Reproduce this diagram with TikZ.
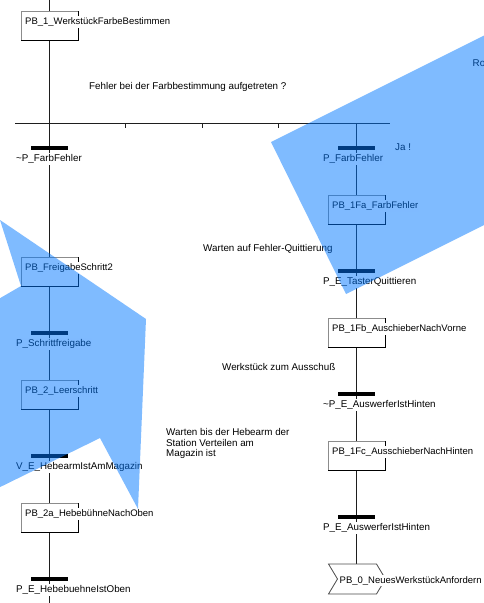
\documentclass[tikz,border=0pt]{standalone}
\usepackage{fontspec}
\setmainfont{Liberation Sans}
\usepackage{tikz}
\usetikzlibrary{positioning, calc, backgrounds}
\usepackage{xcolor}
\definecolor{overlayblue}{RGB}{0,119,255}
\definecolor{wiregray}{RGB}{30,30,30}

\begin{document}
\begin{tikzpicture}[
    x=1pt, y=-1pt,
    node distance=45pt,
    font=\fontsize{9.8}{10.8}\selectfont,
    stepbox/.style={rectangle, draw=black!45, fill=white, line width=0.8pt, minimum width=57pt, minimum height=29pt, inner sep=0pt, outer sep=0pt},
    trbar/.style={rectangle, fill=black, minimum width=37pt, minimum height=4pt, inner sep=0pt, outer sep=0pt},
    wire/.style={line width=0.8pt, wiregray},
    steptext/.style={fill=white, inner sep=1pt, text height=7.2pt, text depth=2pt, anchor=base west, font=\fontsize{9.5}{10.8}\selectfont},
    trlabel/.style={steptext, font=\fontsize{9.8}{10.8}\selectfont},
    remark/.style={inner sep=0pt, anchor=base west},
    veil/.style={fill=overlayblue, fill opacity=0.5},
]
    \useasboundingbox (0,0) rectangle (484,603);

    % Left chain
    \node[stepbox] (s1) at (49.5,25.5) {};
    \node[trbar, below=106pt of s1] (t1) {};
    \node[stepbox, below=107pt of t1] (s2) {};
    \node[trbar, below=of s2] (t2) {};
    \node[stepbox, below=of t2] (s3) {};
    \node[trbar, below=of s3] (t3) {};
    \node[stepbox, below=of t3] (s4) {};
    \node[trbar, below=of s4] (t4) {};

    % Right chain (error branch)
    \node[trbar, right=270pt of t1] (t5) {};
    \node[stepbox, below=of t5] (s5) {};
    \node[trbar, below=of s5] (t6) {};
    \node[stepbox, below=of t6] (s6) {};
    \node[trbar, below=of s6] (t7) {};
    \node[stepbox, below=of t7] (s7) {};
    \node[trbar, below=of s7] (t8) {};
    \node[minimum width=48pt, minimum height=30pt, inner sep=0pt, outer sep=0pt, below=of t8, xshift=-4pt] (jump) {};

    % Dark right and bottom edges of the steps
    \foreach \s in {s1,s2,s3,s4,s5,s6,s7}
        \draw[line width=0.8pt, black] (\s.north east) -- (\s.south east) -- (\s.south west);

    % Jump
    \draw[line width=0.8pt, black!70, fill=white] (jump.north west) -- (jump.north east) -- ([xshift=9pt]jump.east)
        -- (jump.south east) -- (jump.south west) -- ([xshift=9pt]jump.west) -- cycle;

    % Wires
    \begin{scope}[on background layer]
        \coordinate (ltop) at (49.5,0);
        \coordinate (lbot) at (49.5,603);
        \coordinate (brL) at (15,123);
        \coordinate (brR) at (390,123);
        \draw[wire] (brL) -- (brR);
        \foreach \x in {125,202,278}
            \draw[wire] (\x,123) -- (\x,128);
        \draw[wire] (ltop) -- (s1) -- (t1) -- (s2) -- (t2) -- (s3) -- (t3) -- (s4) -- (t4) -- (lbot);
        \draw[wire] (t5 |- brR) -- (t5) -- (s5) -- (t6) -- (s6) -- (t7) -- (s7) -- (t8) -- (t8 |- jump.north);
    \end{scope}

    % Step names
    \node[steptext] (s1t) at ([xshift=3pt, yshift=-13.5pt]s1.north west) {PB\_1\_WerkstückFarbeBestimmen};
    \node[steptext] (s2t) at ([xshift=3pt, yshift=-13.5pt]s2.north west) {PB\_FreigabeSchritt2};
    \node[steptext] (s3t) at ([xshift=3pt, yshift=-13.5pt]s3.north west) {PB\_2\_Leerschritt};
    \node[steptext] (s4t) at ([xshift=3pt, yshift=-13.5pt]s4.north west) {PB\_2a\_HebebühneNachOben};
    \node[steptext] (s5t) at ([xshift=3pt, yshift=-13.5pt]s5.north west) {PB\_1Fa\_FarbFehler};
    \node[steptext] (s6t) at ([xshift=3pt, yshift=-13.5pt]s6.north west) {PB\_1Fb\_AuschieberNachVorne};
    \node[steptext] (s7t) at ([xshift=3pt, yshift=-13.5pt]s7.north west) {PB\_1Fc\_AusschieberNachHinten};
    \node[steptext] (jumpt) at ([xshift=10pt, yshift=-4pt]jump.west) {PB\_0\_NeuesWerkstückAnfordern};

    % Transition conditions
    \node[trlabel] (t1l) at ([xshift=-16pt, yshift=-11.5pt]t1.south west) {\textasciitilde P\_FarbFehler};
    \node[trlabel] (t2l) at ([xshift=-16pt, yshift=-11.5pt]t2.south west) {P\_Schrittfreigabe};
    \node[trlabel] (t3l) at ([xshift=-16pt, yshift=-11.5pt]t3.south west) {V\_E\_HebearmIstAmMagazin};
    \node[trlabel] (t4l) at ([xshift=-16pt, yshift=-11.5pt]t4.south west) {P\_E\_HebebuehneIstOben};
    \node[trlabel] (t5l) at ([xshift=-16pt, yshift=-11.5pt]t5.south west) {P\_FarbFehler};
    \node[trlabel] (t6l) at ([xshift=-16pt, yshift=-11.5pt]t6.south west) {P\_E\_TasterQuittieren};
    \node[trlabel] (t7l) at ([xshift=-16pt, yshift=-11.5pt]t7.south west) {\textasciitilde P\_E\_AuswerferIstHinten};
    \node[trlabel] (t8l) at ([xshift=-16pt, yshift=-11.5pt]t8.south west) {P\_E\_AuswerferIstHinten};

    % Comments
    \node[remark] (question) at (89,89.5) {Fehler bei der Farbbestimmung aufgetreten ?};
    \node[remark] (yes) at (395,150.5) {Ja !};
    \node[remark] (waitack) at (203,251.2) {Warten auf Fehler-Quittierung};
    \node[remark] (reject) at (222,370.2) {Werkstück zum Ausschuß};
    \node[remark, anchor=north west, align=left] (waitarm) at (166,428) {Warten bis der Hebearm der\\Station Verteilen am\\Magazin ist};
    \node[remark] (ro) at (472.5,66.5) {Ro};

    % Blue overlays
    \begin{scope}
        \clip (0,0) rectangle (484,603);
        \fill[veil] (271,142) -- (346,294) -- (646,144) -- (571,-8) -- cycle;
        \fill[veil] (0,220) -- (146,319) -- (138,509) -- (100,438) -- (-10,492) -- (-10,304) -- (21,286) -- cycle;
    \end{scope}

\end{tikzpicture}
\end{document}
